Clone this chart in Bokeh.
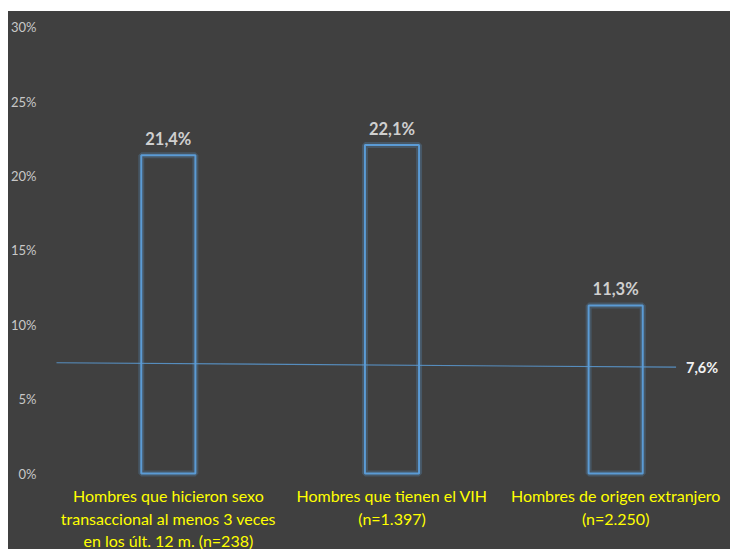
from bokeh.plotting import figure
from bokeh.models import Range1d, FixedTicker, CustomJSTickFormatter, Spacer, ColumnDataSource
from bokeh.layouts import column, row
from bokeh.core.properties import value
from bokeh.embed import file_html
from bokeh.resources import INLINE

# data
categories = [
    ["Hombres que hicieron sexo", "transaccional al menos 3 veces", "en los últ. 12 m. (n=238)"],
    ["Hombres que tienen el VIH", "(n=1.397)"],
    ["Hombres de origen extranjero", "(n=2.250)"],
]
values = [21.4, 22.1, 11.3]
value_labels = ["21,4%", "22,1%", "11,3%"]
ref_x = [-0.505, 2.27]
ref_y = [7.45, 7.15]
ref_label = "7,6%"
y_ticks = [0, 5, 10, 15, 20, 25, 30]

BG = "#404040"
BLUE = "#5B9BD5"
FONT = "Lato"

p = figure(width=722, height=538, output_backend="svg", toolbar_location=None,
           x_range=Range1d(-0.5, 2.5), y_range=Range1d(-5.11, 31.07),
           min_border_left=48, min_border_right=3, min_border_top=0, min_border_bottom=0,
           background_fill_alpha=0, border_fill_alpha=0, outline_line_color=None,
           styles={"background-color": BG})
p.xaxis.visible = False
p.grid.visible = False

ya = p.yaxis[0]
ya.ticker = FixedTicker(ticks=y_ticks)
ya.formatter = CustomJSTickFormatter(code="return tick.toFixed(0) + '%';")
ya.axis_line_color = None
ya.major_tick_line_color = None
ya.minor_tick_line_color = None
ya.major_label_standoff = 14
ya.major_label_text_color = "#C8C8C8"
ya.major_label_text_font = FONT
ya.major_label_text_font_size = "13px"

xs = list(range(len(values)))
src = ColumnDataSource(dict(x=xs, top=values, lab=value_labels))

# glow
p.vbar(x="x", top="top", bottom=0, width=0.242, source=src, fill_color=None,
       line_color=BLUE, line_width=6, line_alpha=0.25)
# reference line
p.line(ref_x, ref_y, line_color=BLUE, line_width=1.2, line_alpha=0.85)
p.vbar(x="x", top="top", bottom=0, width=0.242, source=src, fill_color=None,
       line_color=BLUE, line_width=2)

p.text(x="x", y="top", text="lab", source=src, text_align="center", text_baseline="bottom",
       y_offset=-6, text_color="#CFCFCF", text_font=value(FONT), text_font_style="bold",
       text_font_size="16.5px")

p.text(x=[ref_x[-1]], y=[ref_y[-1]], text=[ref_label], x_offset=10, text_align="left",
       text_baseline="middle", text_color="#F2F2F2", text_font=value(FONT),
       text_font_style="bold", text_font_size="14.5px")

# category labels
cx, cy, ct = [], [], []
line_h = 22.5 / 14.87
first = -(495 - 473) / 14.87
for i, lines in enumerate(categories):
    for j, t in enumerate(lines):
        cx.append(i)
        cy.append(first - j * line_h)
        ct.append(t)
p.text(x=cx, y=cy, text=ct, text_align="center", text_baseline="middle",
       text_color="#FFFF00", text_font=value(FONT), text_font_size="16px")

layout = column(Spacer(height=11), row(Spacer(width=8), p))
open("out.html", "w").write(file_html(layout, INLINE))
